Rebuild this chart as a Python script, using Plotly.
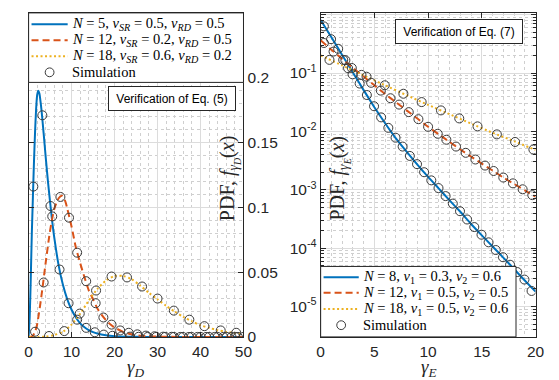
import plotly.graph_objects as go

# ---------------- Left panel: PDF of gamma_D (Eq. 5) ----------------
d_x_blue = [0, 0.25, 0.5, 0.75, 1.0, 1.25, 1.5, 1.75, 2.0, 2.25, 2.5, 3.0, 3.5, 4.0, 4.5, 5.0,
            5.5, 6.0, 7.0, 8.0, 9.0, 10, 11, 12, 13, 14, 15, 16, 18, 20, 25, 30, 40, 50]
d_y_blue = [0, 0.015, 0.045, 0.08, 0.108, 0.135, 0.158, 0.176, 0.187, 0.19, 0.188, 0.175, 0.157,
            0.138, 0.12, 0.104, 0.089, 0.076, 0.055, 0.04, 0.029, 0.021, 0.015, 0.0105, 0.0075,
            0.0053, 0.0037, 0.0026, 0.0013, 0.0006, 0.0001, 0, 0, 0]

d_x_red = [0, 0.5, 1, 1.5, 2, 3, 4, 5, 6, 7, 7.7, 8.5, 9, 10, 11, 12, 13, 14, 15, 16, 17, 18,
           19, 20, 22, 24, 26, 28, 30, 35, 40, 50]
d_y_red = [0, 0.0002, 0.001, 0.004, 0.01, 0.032, 0.058, 0.082, 0.099, 0.107, 0.109, 0.105,
           0.099, 0.085, 0.069, 0.057, 0.046, 0.036, 0.029, 0.022, 0.017, 0.013, 0.0098, 0.0073,
           0.0039, 0.002, 0.001, 0.0005, 0.00025, 0.00003, 0, 0]

d_x_yel = [0, 2, 4, 6, 8, 10, 12, 14, 16, 18, 20, 22, 24, 26, 28, 30, 32, 34, 36, 38, 40, 42,
           44, 46, 48, 50]
d_y_yel = [0, 0, 0.0003, 0.0015, 0.004, 0.0095, 0.018, 0.028, 0.037, 0.0435, 0.047, 0.047,
           0.0445, 0.0395, 0.034, 0.029, 0.024, 0.0195, 0.0155, 0.012, 0.009, 0.007, 0.0052,
           0.0039, 0.0031, 0.0023]

d_sim_x_blue = [1.1, 3.2, 5.1, 7.2, 9.3, 11.3, 13.4, 15.4, 17.5, 19.5, 21.6, 23.6, 25.6, 27.7,
                29.7, 31.8, 33.8, 35.9, 37.9, 40.0, 42.0, 44.0, 46.1, 48.1, 50.0]
d_sim_y_blue = [0.116, 0.171, 0.101, 0.052, 0.026, 0.0133, 0.007, 0.0036, 0.0018, 0.0009,
                0.0005, 0.0002, 0.0001, 0, 0, 0, 0, 0, 0, 0, 0, 0, 0, 0, 0]
d_sim_x_red = [1.5, 3.5, 5.5, 7.4, 9.4, 11.3, 13.4, 15.6, 17.4, 19.3, 21.3, 23.3, 25.3, 27.3,
               29.3, 31.3, 33.3, 35.3, 37.3, 39.3, 41.3, 43.3, 45.3, 47.2, 48.7]
d_sim_y_red = [0.004, 0.042, 0.093, 0.108, 0.092, 0.065, 0.043, 0.026, 0.015, 0.0095, 0.005,
               0.0032, 0.002, 0.001, 0.0005, 0.0002, 0.0001, 0, 0, 0, 0, 0, 0, 0, 0]
d_sim_x_yel = [4.75, 8.3, 11.9, 15.7, 19.3, 22.9, 26.4, 30.0, 33.8, 37.4, 40.9, 44.7, 48.3]
d_sim_y_yel = [0.0007, 0.0045, 0.018, 0.0358, 0.0466, 0.0459, 0.0389, 0.0296, 0.0203, 0.0133,
               0.0083, 0.005, 0.0032]

d_names = ["<i>N</i> = 5, <i>ν</i><sub><i>SR</i></sub> = 0.5, <i>ν</i><sub><i>RD</i></sub> = 0.5",
           "<i>N</i> = 12, <i>ν</i><sub><i>SR</i></sub> = 0.2, <i>ν</i><sub><i>RD</i></sub> = 0.5",
           "<i>N</i> = 18, <i>ν</i><sub><i>SR</i></sub> = 0.6, <i>ν</i><sub><i>RD</i></sub> = 0.2"]
d_xticks = [0, 10, 20, 30, 40, 50]
d_yticks = [0, 0.05, 0.1, 0.15, 0.2]
d_yticktext = ["0", "0.05", "0.1", "0.15", "0.2"]

# ---------------- Right panel: PDF of gamma_E (Eq. 7) ----------------
e_x = [0, 1, 2, 3, 4, 5, 6, 7, 8, 9, 10, 11, 12, 13, 14, 15, 16, 17, 18, 19, 20]
e_y_blue = [0.81, 0.41, 0.204, 0.102, 0.051, 0.026, 0.0138, 0.0076, 0.0045, 0.0027, 0.00166,
            0.00105, 0.00066, 0.00042, 0.00026, 0.000166, 0.000107, 6.9e-5, 4.4e-5, 2.8e-5, 1.8e-5]
e_y_red = [0.363, 0.251, 0.174, 0.123, 0.087, 0.0617, 0.0437, 0.0316, 0.0229, 0.0166, 0.012,
           0.0089, 0.0066, 0.0049, 0.0037, 0.0028, 0.00214, 0.00162, 0.00126, 0.00098, 0.00076]
e_x_yel = [0, 2, 4, 6, 8, 10, 12, 14, 16, 18, 20]
e_y_yel = [0.2, 0.135, 0.091, 0.0617, 0.0417, 0.0285, 0.0197, 0.0136, 0.0095, 0.0068, 0.0048]

e_sim_x_blue = [0.3, 0.97, 1.63, 2.3, 2.97, 3.63, 4.3, 4.97, 5.63, 6.3, 6.97, 7.63, 8.3, 8.97,
                9.63, 10.3, 10.97, 11.63, 12.3, 12.97, 13.63, 14.3, 14.97, 15.63, 16.3, 16.97,
                17.63, 18.3, 18.97, 19.63]
e_sim_y_blue = [0.63, 0.38, 0.26, 0.166, 0.095, 0.066, 0.042, 0.027, 0.0174, 0.0115, 0.0078,
                0.0055, 0.0038, 0.00275, 0.002, 0.00145, 0.00107, 0.00078, 0.00058, 0.00043,
                0.00031, 0.00023, 0.00017, 0.000126, 9.3e-5, 7.0e-5, 5.2e-5, 3.9e-5, 2.9e-5,
                1.85e-5]
e_sim_x_red = [0.3, 1.2, 2.1, 2.9, 3.8, 4.7, 5.6, 6.5, 7.3, 8.2, 9.1, 10.0, 10.9, 11.7, 12.6,
               13.5, 14.4, 15.3, 16.1, 17.0, 17.9, 18.8, 19.7]
e_sim_y_red = [0.327, 0.233, 0.168, 0.122, 0.093, 0.068, 0.05, 0.037, 0.0288, 0.0214, 0.0162,
               0.012, 0.0091, 0.0072, 0.0055, 0.0043, 0.0033, 0.0026, 0.0021, 0.00162, 0.00129,
               0.00102, 0.00081]
e_sim_x_yel = [0.82, 2.55, 4.27, 5.97, 7.7, 9.4, 11.2, 12.9, 14.6, 16.4, 18.1, 19.8]
e_sim_y_yel = [0.168, 0.121, 0.0865, 0.0617, 0.0442, 0.0318, 0.0229, 0.0167, 0.0122, 0.0089,
               0.0066, 0.0049]

e_names = ["<i>N</i> = 8, <i>ν</i><sub>1</sub> = 0.3, <i>ν</i><sub>2</sub> = 0.6",
           "<i>N</i> = 12, <i>ν</i><sub>1</sub> = 0.5, <i>ν</i><sub>2</sub> = 0.5",
           "<i>N</i> = 18, <i>ν</i><sub>1</sub> = 0.5, <i>ν</i><sub>2</sub> = 0.6"]
sim_name = "Simulation"
e_xticks = [0, 5, 10, 15, 20]
e_yticks = [1e-5, 1e-4, 1e-3, 1e-2, 1e-1, 1]
e_yticktext = ["10<sup>-5</sup>", "10<sup>-4</sup>", "10<sup>-3</sup>", "10<sup>-2</sup>",
               "10<sup>-1</sup>", "1"]

# ---------------- styling ----------------
W, H = 559, 380
BLUE, RED, YEL = "#0072BD", "#D95319", "#EDB120"
AX = "#262626"
SANS = "Liberation Sans"
SERIF = "Liberation Serif"
dy0, dy1 = 1 - 336 / H, 1 - 5 / H
SIMC = "#3a3a3a"

fig = go.Figure()

line_styles = [dict(color=BLUE, width=2), dict(color=RED, width=2, dash="7px,4px"),
               dict(color=YEL, width=2, dash="2px,2.5px")]
sim_marker = dict(symbol="circle-open", size=9, color=SIMC, line=dict(width=1))

# left panel traces
for xs, ys, st, nm in zip([d_x_blue, d_x_red, d_x_yel], [d_y_blue, d_y_red, d_y_yel],
                          line_styles, d_names):
    fig.add_trace(go.Scatter(x=xs, y=ys, mode="lines", name=nm,
                             line=dict(**st, shape="spline", smoothing=0.7),
                             xaxis="x", yaxis="y"))
for xs, ys in zip([d_sim_x_blue, d_sim_x_red, d_sim_x_yel],
                  [d_sim_y_blue, d_sim_y_red, d_sim_y_yel]):
    fig.add_trace(go.Scatter(x=xs, y=ys, mode="markers", name=sim_name, marker=sim_marker,
                             xaxis="x", yaxis="y"))

# right panel traces
for xs, ys, st, nm in zip([e_x, e_x, e_x_yel], [e_y_blue, e_y_red, e_y_yel], line_styles, e_names):
    fig.add_trace(go.Scatter(x=xs, y=ys, mode="lines", name=nm,
                             line=dict(**st, shape="spline", smoothing=0.5),
                             xaxis="x2", yaxis="y2"))
for xs, ys in zip([e_sim_x_blue, e_sim_x_red, e_sim_x_yel],
                  [e_sim_y_blue, e_sim_y_red, e_sim_y_yel]):
    fig.add_trace(go.Scatter(x=xs, y=ys, mode="markers", name=sim_name, marker=sim_marker,
                             xaxis="x2", yaxis="y2"))

common = dict(showline=True, linecolor=AX, linewidth=1, mirror="ticks", ticks="inside",
              ticklen=5, tickcolor=AX, tickwidth=1, showgrid=True, gridcolor="#dcdcdc",
              gridwidth=1, zeroline=False, tickfont=dict(family=SANS, size=15.5, color=AX))
minor_grid = dict(showgrid=True, gridcolor="#cfcfcf", griddash="dot", gridwidth=1)

fig.update_layout(
    width=W, height=H, margin=dict(l=0, r=0, t=0, b=0),
    paper_bgcolor="white", plot_bgcolor="white", showlegend=False,
    xaxis=dict(domain=[17 / W, 237 / W], range=[0, 50], tickvals=d_xticks, anchor="y",
               minor=dict(dtick=2, **minor_grid), **common),
    yaxis=dict(domain=[dy0, dy1], range=[0, 0.25], side="right", tickvals=d_yticks,
               ticktext=d_yticktext, anchor="x", minor=dict(dtick=0.01, **minor_grid), **common),
    xaxis2=dict(domain=[316 / W, 536 / W], range=[0, 20], tickvals=e_xticks, anchor="y2",
                minor=dict(dtick=1, **minor_grid), **common),
    yaxis2=dict(domain=[dy0, dy1], type="log", range=[-5.52, 0.03], tickvals=e_yticks,
                ticktext=e_yticktext, anchor="x2",
                minor=dict(dtick="D1", ticks="inside", ticklen=3, tickcolor=AX, **minor_grid),
                **common),
)


def px(x):
    return x / W


def py(y):
    return 1 - y / H


# ---- hand-built legends (MATLAB-like compact layout) ----
shapes = []
annos = []


def legend_box(x0, y0, x1, y1, names, rows, line_x0, line_x1, text_x):
    shapes.append(dict(type="rect", xref="paper", yref="paper", x0=px(x0), x1=px(x1),
                       y0=py(y0), y1=py(y1), fillcolor="white",
                       line=dict(color=AX, width=1), layer="above"))
    for nm, st, ry in zip(names, line_styles, rows[:3]):
        shapes.append(dict(type="line", xref="paper", yref="paper", x0=px(line_x0),
                           x1=px(line_x1), y0=py(ry), y1=py(ry), line=st, layer="above"))
        annos.append(dict(text=nm, x=px(text_x), y=py(ry), xanchor="left"))
    cx, cy = (line_x0 + line_x1) / 2, rows[3]
    shapes.append(dict(type="circle", xref="paper", yref="paper", x0=px(cx - 4.5),
                       x1=px(cx + 4.5), y0=py(cy + 4.5), y1=py(cy - 4.5),
                       line=dict(color=SIMC, width=1), layer="above"))
    annos.append(dict(text=sim_name, x=px(text_x), y=py(cy), xanchor="left"))


legend_box(17, 5, 237, 76, d_names, [16.7, 33.0, 49.3, 65.7], 20, 57, 59)
legend_box(316, 264, 516, 336, e_names, [275, 291, 307.5, 324], 319, 355, 357)

for a in annos:
    fig.add_annotation(xref="paper", yref="paper", showarrow=False, yanchor="middle",
                       font=dict(family=SERIF, size=14.5, color="black"), **a)

labels = [
    dict(text="PDF, <i>f</i><sub><i>γ</i><sub><i>D</i></sub></sub>(<i>x</i>)", x=px(222),
         y=py(174), textangle=-90, size=20),
    dict(text="PDF, <i>f</i><sub><i>γ</i><sub><i>E</i></sub></sub>(<i>x</i>)", x=px(335),
         y=py(174), textangle=-90, size=20),
    dict(text="<i>γ</i><sub><i>D</i></sub>", x=px(127), y=py(368), textangle=0, size=19),
    dict(text="<i>γ</i><sub><i>E</i></sub>", x=px(427), y=py(368), textangle=0, size=19),
]
for a in labels:
    fig.add_annotation(xref="paper", yref="paper", showarrow=False, xanchor="center",
                       yanchor="middle", text=a["text"], x=a["x"], y=a["y"],
                       textangle=a["textangle"],
                       font=dict(family=SERIF, size=a["size"], color=AX))

for txt, cx, cy in [("Verification of Eq. (5)", 164, 92), ("Verification of Eq. (7)", 457.5, 24.5)]:
    fig.add_annotation(xref="paper", yref="paper", x=px(cx), y=py(cy), text=txt,
                       showarrow=False, xanchor="center", yanchor="middle", width=120, height=17,
                       borderpad=3, bordercolor=AX, borderwidth=1, bgcolor="white",
                       font=dict(family=SANS, size=12, color="black"))

fig.update_layout(shapes=shapes)
fig.write_html("out.html")
